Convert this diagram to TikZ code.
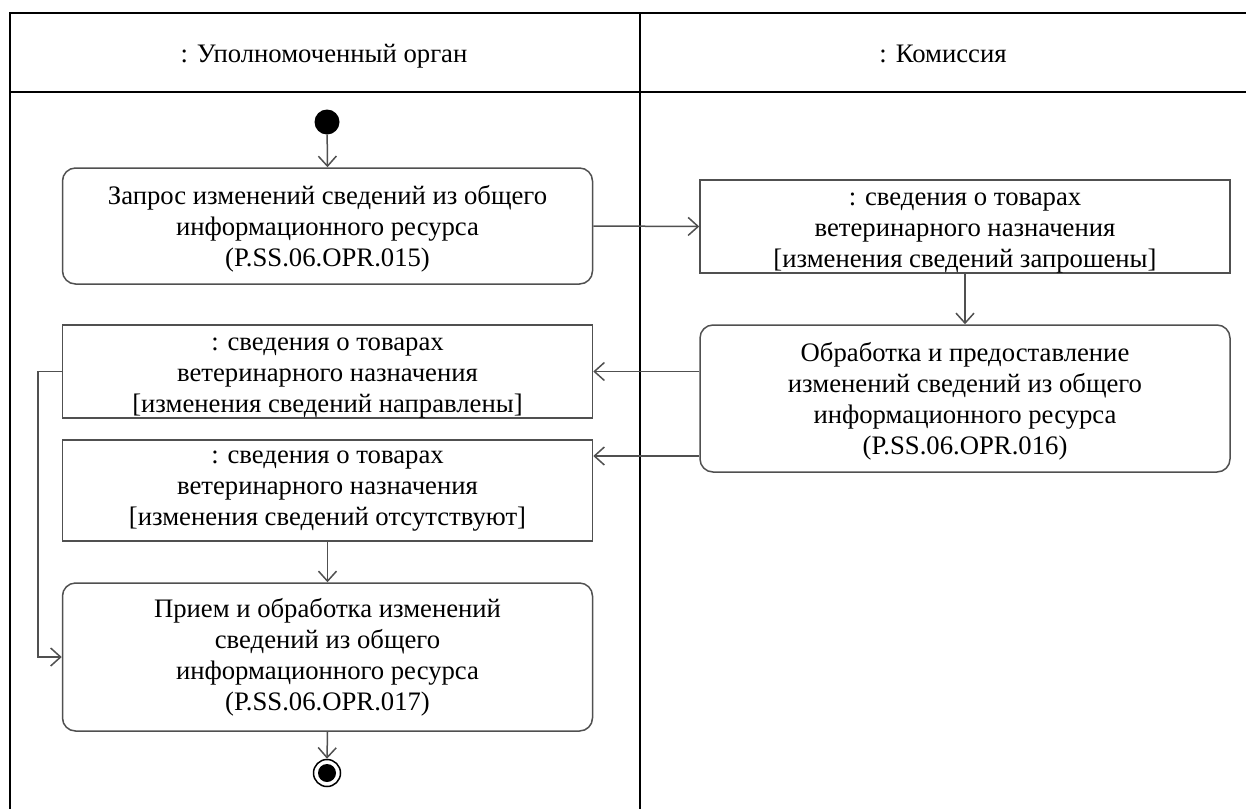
\documentclass[tikz,border=0pt]{standalone}
\usepackage{fontspec}
\setmainfont{Liberation Serif}
\usetikzlibrary{arrows.meta}
\definecolor{boxline}{HTML}{505050}
\tikzset{
  x=1pt, y=-1pt,
  lane/.style={draw=black, line width=1.8pt},
  txt/.style={font=\fontsize{26.7}{31}\selectfont, align=center, text=black},
  action/.style={txt, draw=boxline, line width=1.5pt, rounded corners=13pt, inner sep=0pt},
  objbox/.style={txt, draw=boxline, line width=1.5pt, inner sep=0pt},
  arr/.style={draw=boxline, line width=1.5pt, -{Straight Barb[length=10pt,width=18pt,line width=1.5pt]}},
}
\begin{document}
\begin{tikzpicture}
\useasboundingbox (0,0) rectangle (1246,809);
% swimlanes
\draw[lane] (1246,13) -- (10,13) -- (10,809);
\draw[lane] (10,92) -- (1246,92);
\draw[lane] (640,13) -- (640,809);
\node[txt, anchor=base] (h1) at (324,62) {: Уполномоченный орган};
\node[txt, anchor=base] (h2) at (943,62) {: Комиссия};
% nodes
\node[circle, fill=black, minimum size=25pt, inner sep=0pt] (start) at (327,122) {};
\node[action, minimum width=530pt, minimum height=116pt, text depth=-2pt] (a1) at (327.5,226)
  {Запрос изменений сведений из общего\\информационного ресурса\\(P.SS.06.OPR.015)};
\node[objbox, minimum width=530pt, minimum height=93pt, text depth=-6pt] (o1) at (965,226.5)
  {\rule{0pt}{19pt}: сведения о товарах\\ветеринарного назначения\\[0pt][изменения сведений запрошены]};
\node[action, minimum width=530pt, minimum height=147pt, text depth=-2pt] (a2) at (965,398.5)
  {Обработка и предоставление\\изменений сведений из общего\\информационного ресурса\\(P.SS.06.OPR.016)};
\node[objbox, minimum width=530pt, minimum height=93pt, text depth=-6pt] (o2) at (327.5,371.5)
  {\rule{0pt}{19pt}: сведения о товарах\\ветеринарного назначения\\[0pt][изменения сведений направлены]};
\node[objbox, minimum width=530pt, minimum height=101pt, text depth=4pt] (o3) at (327.5,490.5)
  {: сведения о товарах\\ветеринарного назначения\\[0pt][изменения сведений отсутствуют]};
\node[action, minimum width=530pt, minimum height=148pt] (a3) at (327.5,657)
  {Прием и обработка изменений\\сведений из общего\\информационного ресурса\\(P.SS.06.OPR.017)};
\node[circle, draw=black, line width=1.5pt, fill=white, minimum size=27pt, inner sep=0pt] (end) at (327,773) {};
\node[circle, fill=black, minimum size=18pt, inner sep=0pt] (endin) at (end.center) {};
% connectors
\coordinate (y456) at (0,456);
\draw[arr] (start) -- (a1.north);
\draw[arr] (a1.east) -- (o1.west);
\draw[arr] (o1.south) -- (a2.north);
\draw[arr] (a2.west |- o2.east) -- (o2.east);
\draw[arr] (a2.west |- y456) -- (o3.east |- y456);
\draw[arr] (o3.south) -- (a3.north);
\draw[arr] (o2.west) -- ++(-24,0) |- (a3.west);
\draw[arr] (a3.south) -- (end.north);
\end{tikzpicture}
\end{document}
